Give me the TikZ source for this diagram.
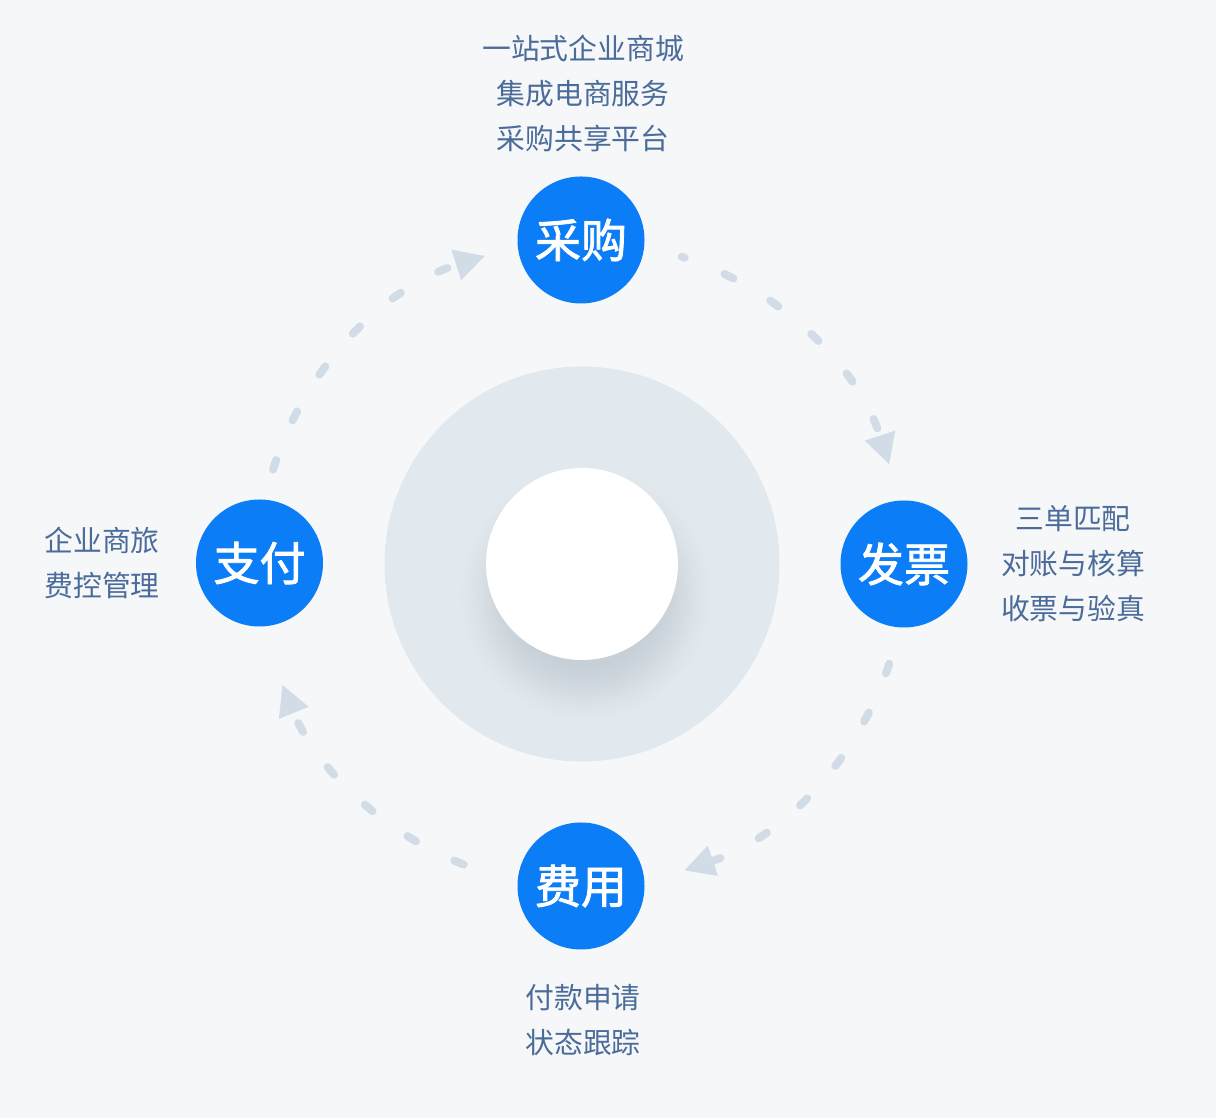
\documentclass[tikz,border=0pt]{standalone}
\usepackage{fontspec}
\newfontfamily\cjk{Noto Sans CJK SC}
\newfontfamily\cjkmed[FakeBold=1.8]{Noto Sans CJK SC}
\usetikzlibrary{arrows.meta}
\definecolor{bg}{HTML}{F5F7F9}
\definecolor{ringc}{HTML}{E1E9EF}
\definecolor{nodeblue}{HTML}{0B7DF6}
\definecolor{dashc}{HTML}{D2DCE7}
\definecolor{labelc}{HTML}{4B6C9A}
\definecolor{shA}{HTML}{C8D0D7}
\definecolor{shB}{HTML}{CDD5DC}
\definecolor{shC}{HTML}{D5DDE3}
\definecolor{shD}{HTML}{DCE4EA}
\pgfdeclareradialshading{hubshadow}{\pgfpoint{0bp}{0bp}}{%
  color(0bp)=(shA); color(72bp)=(shA); color(86bp)=(shB);
  color(100bp)=(shC); color(112bp)=(shD); color(126bp)=(ringc); color(160bp)=(ringc)}
\begin{document}
\begin{tikzpicture}[x=1pt,y=1pt,
  stage/.style={circle, fill=nodeblue, minimum size=127pt, inner sep=0pt, text=white,
    font=\cjkmed\fontsize{46}{50}\selectfont},
  lbl/.style={text=labelc, align=center, inner sep=0pt,
    font=\cjk\fontsize{28.8}{45}\selectfont},
  flow/.style={draw=dashc, line width=8pt, line cap=round, dash pattern=on 10pt off 43pt,
    -{Triangle[length=30pt,width=32pt,line width=0pt]}}]
\fill[bg] (0,0) rectangle (1216,1118);
\useasboundingbox (0,0) rectangle (1216,1118);
\coordinate (C) at (582,554);
\node[circle, fill=ringc, minimum size=395pt, inner sep=0pt] (ring) at (C) {};
\coordinate (S) at (585,524);
\begin{scope}
  \clip (C) circle[radius=197];
  \node[inner sep=0pt] (shadow) at (S) {\pgfuseshading{hubshadow}};
\end{scope}
\node[circle, fill=white, minimum size=192pt, inner sep=0pt] (hub) at (C) {};
% stages
\node[stage] (cg) at (581,878) {采购};
\node[stage] (fp) at (904,554) {发票};
\node[stage] (fy) at (581,232) {费用};
\node[stage] (zf) at (259.5,555) {支付};
% flow arcs
\draw[flow, dash phase=7pt] ([shift={(72:323)}]C) arc[start angle=72, end angle=18, radius=323];
\draw[flow] ([shift={(-18:323)}]C) arc[start angle=-18, end angle=-71.5, radius=323];
\draw[flow] ([shift={(-111.5:323)}]C) arc[start angle=-111.5, end angle=-158, radius=323];
\draw[flow] ([shift={(163:323)}]C) arc[start angle=163, end angle=107.5, radius=323];
% labels
\node[lbl] (cgl) at (583,1025) {一站式企业商城\\集成电商服务\\采购共享平台};
\node[lbl] (fpl) at (1073,554) {三单匹配\\对账与核算\\收票与验真};
\node[lbl] (zfl) at (102,555) {企业商旅\\费控管理};
\node[lbl] (fyl) at (583,97.5) {付款申请\\状态跟踪};
\end{tikzpicture}
\end{document}
